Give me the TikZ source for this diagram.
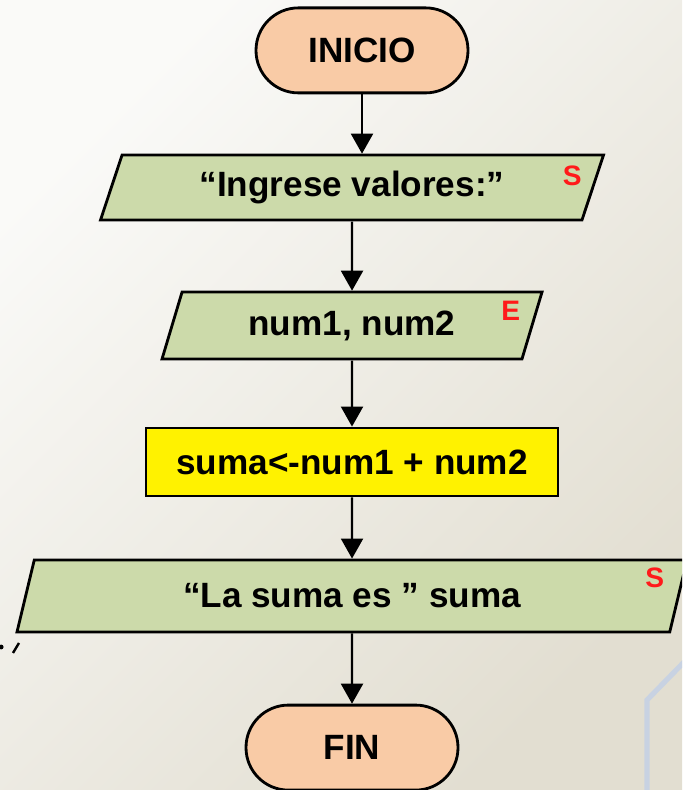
\documentclass[tikz,border=0pt]{standalone}
\usepackage{fontspec}
\setmainfont{Liberation Sans}
\usetikzlibrary{shapes.geometric,arrows.meta}
\definecolor{durazno}{HTML}{F9CBA6}
\definecolor{verde}{HTML}{CCDAAA}
\definecolor{fondoA}{HTML}{FAFAF8}
\definecolor{fondoB}{HTML}{E2DED1}
\definecolor{hexa}{HTML}{C8D2E2}
\definecolor{rojo}{HTML}{FF1A1A}

\begin{document}
\begin{tikzpicture}[
    every node/.style={font=\fontsize{25}{30}\selectfont\bfseries},
    terminal/.style={draw, line width=2pt, fill=durazno, rounded corners=1.06cm,
        minimum width=5.3cm, minimum height=2.125cm},
    datos/.style={draw, line width=2pt, fill=verde, trapezium,
        trapezium left angle=63, trapezium right angle=117, trapezium stretches body},
    proceso/.style={draw, line width=2pt, fill=yellow, minimum width=10.3cm, minimum height=1.7cm},
    marca/.style={text=rojo, font=\fontsize{20}{22}\selectfont\bfseries},
    flecha/.style={line width=1.5pt, -{Triangle[width=0.55cm, length=0.5cm]}}
]
    % Fondo
    \clip (0,0) rectangle (17.05,19.75);
    \shade[top color=fondoA, bottom color=fondoB, shading angle=45] (0,0) rectangle (17.05,19.75);
    \draw[hexa, line width=0.13cm] (17.2,3.3) -- (16.175,2.25) -- (16.175,-0.2);
    \fill (0.03,3.575) circle (0.06);
    \draw[line width=0.06cm] (0.325,3.425) -- (0.475,3.675);

    % Diagrama
    \node[terminal] (inicio) at (9.05,18.49) {INICIO};
    \node[datos, minimum width=12.575cm, minimum height=1.625cm] (mensaje) at (8.8,15.06) {“Ingrese valores:”};
    \node[datos, minimum width=9.5cm, minimum height=1.675cm] (lectura) at (8.8,11.61) {num1, num2};
    \node[proceso] (calculo) at (8.8,8.2) {suma<-num1 + num2};
    \node[datos, minimum width=16.75cm, minimum height=1.8cm] (resultado) at (8.8,4.85) {“La suma es ” suma};
    \node[terminal] (fin) at (8.8,1.06) {FIN};

    % Marcas de entrada / salida
    \node[marca] at ([shift={(-0.83,-0.55)}]mensaje.top right corner) {S};
    \node[marca] at ([shift={(-0.83,-0.5)}]lectura.top right corner) {E};
    \node[marca] at ([shift={(-0.85,-0.47)}]resultado.top right corner) {S};

    % Flechas
    \draw[flecha] (inicio.south) -- (inicio.south |- mensaje.north);
    \foreach \a/\b in {mensaje/lectura, lectura/calculo, calculo/resultado, resultado/fin}
        \draw[flecha] (\a) -- (\b);
\end{tikzpicture}
\end{document}
